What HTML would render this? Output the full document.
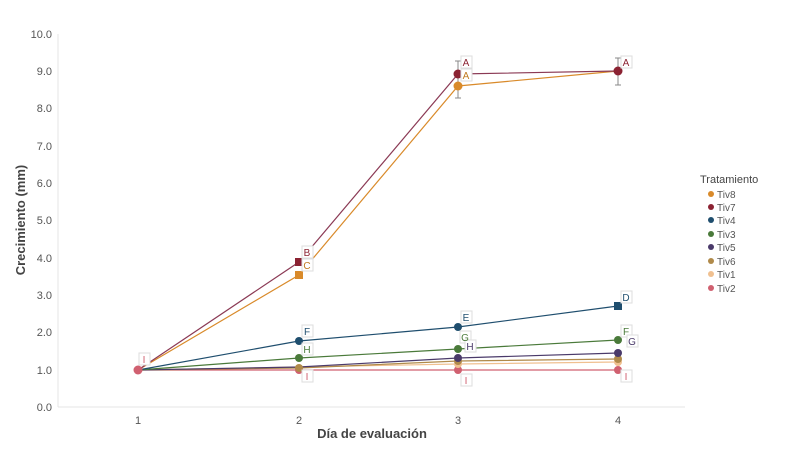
<!DOCTYPE html>
<html><head><meta charset="utf-8"><style>
body{margin:0;background:#fff;width:795px;height:448px;overflow:hidden;font-family:"Liberation Sans",sans-serif}
</style></head><body>
<svg width="795" height="448" xmlns="http://www.w3.org/2000/svg" font-family="Liberation Sans, sans-serif">
<g stroke="#e4e4e4" stroke-width="1">
<line x1="58" y1="34" x2="58" y2="407"/>
<line x1="58" y1="407" x2="685" y2="407"/>
</g>
<g font-size="11" fill="#555" text-anchor="end">
<text x="52" y="411">0.0</text><text x="52" y="374">1.0</text><text x="52" y="336">2.0</text><text x="52" y="299">3.0</text><text x="52" y="262">4.0</text><text x="52" y="224">5.0</text><text x="52" y="187">6.0</text><text x="52" y="150">7.0</text><text x="52" y="112">8.0</text><text x="52" y="75">9.0</text><text x="52" y="38">10.0</text>
</g>
<g font-size="11" fill="#555" text-anchor="middle">
<text x="138" y="424">1</text><text x="299" y="424">2</text><text x="458" y="424">3</text><text x="618" y="424">4</text>
</g>
<text x="372" y="438" font-size="13" font-weight="bold" fill="#444" text-anchor="middle">Día de evaluación</text>
<text transform="translate(25,220) rotate(-90)" font-size="13" font-weight="bold" fill="#444" text-anchor="middle">Crecimiento (mm)</text>
<g fill="none" stroke-width="1.2">
<polyline stroke="#d06070" points="138,370 299,370 458,370 618,370"/>
<polyline stroke="#f0c090" points="138,370 299,367 458,364 618,362"/>
<polyline stroke="#b08a4a" points="138,370 299,368 458,361 618,359"/>
<polyline stroke="#4a3a6a" points="138,370 299,367 458,358 618,353"/>
<polyline stroke="#4a7a3a" points="138,370 299,358 458,349 618,340"/>
<polyline stroke="#1f4e6e" points="138,370 299,341 458,327 618,306"/>
<polyline stroke="#d98a2a" points="138,370 299,275 458,86 618,71"/>
<polyline stroke="#8b3a55" points="138,370 299,262 458,74 618,71"/>
</g>
<g stroke="#888" stroke-width="1">
<line x1="458" y1="61" x2="458" y2="98"/><line x1="455" y1="61" x2="461" y2="61"/><line x1="455" y1="98" x2="461" y2="98"/>
<line x1="618" y1="58" x2="618" y2="85"/><line x1="615" y1="58" x2="621" y2="58"/><line x1="615" y1="85" x2="621" y2="85"/>
</g>
<g>
<circle cx="138" cy="370" r="4.5" fill="#d06070"/>
<circle cx="299" cy="370" r="4" fill="#d06070"/><circle cx="458" cy="370" r="4" fill="#d06070"/><circle cx="618" cy="370" r="4" fill="#d06070"/>
<circle cx="458" cy="364" r="4" fill="#f0c090"/><circle cx="618" cy="362" r="4" fill="#f0c090"/>
<circle cx="299" cy="368" r="4" fill="#b08a4a"/><circle cx="458" cy="361" r="4" fill="#b08a4a"/><circle cx="618" cy="359" r="4" fill="#b08a4a"/>
<circle cx="458" cy="358" r="4" fill="#4a3a6a"/><circle cx="618" cy="353" r="4" fill="#4a3a6a"/>
<circle cx="299" cy="358" r="4" fill="#4a7a3a"/><circle cx="458" cy="349" r="4" fill="#4a7a3a"/><circle cx="618" cy="340" r="4" fill="#4a7a3a"/>
<circle cx="299" cy="341" r="4" fill="#1f4e6e"/><circle cx="458" cy="327" r="4" fill="#1f4e6e"/><rect x="614" y="302" width="8" height="8" fill="#1f4e6e"/>
<rect x="295" y="271" width="8" height="8" fill="#d98a2a"/><circle cx="458" cy="86" r="4.5" fill="#d98a2a"/>
<rect x="295" y="258" width="8" height="8" fill="#8b2232"/><circle cx="458" cy="74" r="4.5" fill="#8b2232"/><circle cx="618" cy="71" r="4.5" fill="#8b2232"/>
</g>
<g font-size="10" text-anchor="middle">
<g fill="#fff" stroke="#ddd"><rect x="139" y="353" width="11" height="12"/><rect x="302" y="246" width="11" height="12"/><rect x="302" y="259" width="11" height="12"/><rect x="302" y="325" width="11" height="12"/><rect x="302" y="343" width="11" height="12"/><rect x="302" y="370" width="11" height="12"/><rect x="461" y="56" width="11" height="12"/><rect x="461" y="69" width="11" height="12"/><rect x="461" y="311" width="11" height="12"/><rect x="460" y="331" width="11" height="12"/><rect x="465" y="340" width="11" height="12"/><rect x="461" y="374" width="11" height="12"/><rect x="621" y="56" width="11" height="12"/><rect x="621" y="291" width="11" height="12"/><rect x="621" y="325" width="11" height="12"/><rect x="627" y="335" width="11" height="12"/><rect x="621" y="370" width="11" height="12"/></g>
<text x="144" y="363" fill="#d06070">I</text>
<text x="307" y="256" fill="#8b2232">B</text><text x="307" y="269" fill="#c07a20">C</text>
<text x="307" y="335" fill="#1f4e6e">F</text><text x="307" y="353" fill="#4a7a3a">H</text><text x="307" y="380" fill="#d06070">I</text>
<text x="466" y="66" fill="#8b2232">A</text><text x="466" y="79" fill="#c07a20">A</text>
<text x="466" y="321" fill="#1f4e6e">E</text><text x="465" y="341" fill="#4a7a3a">G</text><text x="470" y="350" fill="#4a3a6a">H</text><text x="466" y="384" fill="#d06070">I</text>
<text x="626" y="66" fill="#8b2232">A</text><text x="626" y="301" fill="#1f4e6e">D</text><text x="626" y="335" fill="#4a7a3a">F</text><text x="632" y="345" fill="#4a3a6a">G</text><text x="626" y="380" fill="#d06070">I</text>
</g>
<text x="700" y="183" font-size="11" fill="#444">Tratamiento</text>
<g font-size="10" fill="#555">
<circle cx="711" cy="194" r="3" fill="#d98a2a"/><text x="717" y="198">Tiv8</text>
<circle cx="711" cy="207" r="3" fill="#8b2232"/><text x="717" y="211">Tiv7</text>
<circle cx="711" cy="220" r="3" fill="#1f4e6e"/><text x="717" y="224">Tiv4</text>
<circle cx="711" cy="234" r="3" fill="#4a7a3a"/><text x="717" y="238">Tiv3</text>
<circle cx="711" cy="247" r="3" fill="#4a3a6a"/><text x="717" y="251">Tiv5</text>
<circle cx="711" cy="261" r="3" fill="#b08a4a"/><text x="717" y="265">Tiv6</text>
<circle cx="711" cy="274" r="3" fill="#f0c090"/><text x="717" y="278">Tiv1</text>
<circle cx="711" cy="288" r="3" fill="#d06070"/><text x="717" y="292">Tiv2</text>
</g>
</svg>
</body></html>
